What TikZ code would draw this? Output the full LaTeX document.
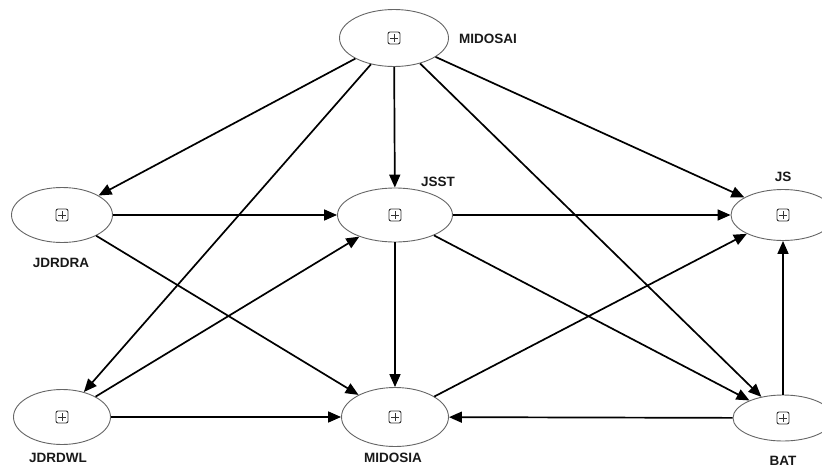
\documentclass[tikz,border=0pt]{standalone}
\usepackage{fontspec}
\setmainfont{Liberation Sans}
\usetikzlibrary{arrows.meta,shapes.geometric}
\begin{document}
\begin{tikzpicture}[x=1pt,y=-1pt,
  ell/.style={ellipse, draw=black!60, line width=0.9pt, fill=white, inner sep=0pt},
  lbl/.style={font=\bfseries\fontsize{13.5}{16}\selectfont, text=black!90, inner sep=0pt},
  conn/.style={-{Triangle[length=13pt,width=11pt]}, line width=1.7pt},
  plusbox/.pic={
    \draw[line width=0.9pt, draw=black!80, rounded corners=2pt] (-6,-6) rectangle (6,6);
    \draw[line width=0.9pt, draw=black!80] (-3.6,0)--(3.6,0) (0,-3.6)--(0,3.6);}]
\useasboundingbox (0,0) rectangle (822,469);
\fill[white] (0,0) rectangle (822,469);

\node[ell, minimum width=109pt, minimum height=57pt] (midosai) at (394,38) {};
\node[ell, minimum width=101pt, minimum height=55pt] (jdrdra) at (62,215) {};
\node[ell, minimum width=115pt, minimum height=54pt] (jsst) at (395,215) {};
\node[ell, minimum width=104pt, minimum height=51pt] (js) at (783,215) {};
\node[ell, minimum width=97pt, minimum height=55pt] (jdrdwl) at (62,417) {};
\node[ell, minimum width=107pt, minimum height=59pt] (midosia) at (395,417) {};
\node[ell, minimum width=100pt, minimum height=46pt] (bat) at (783,418) {};

\foreach \n in {midosai,jdrdra,jsst,js,jdrdwl,midosia,bat} {\pic at (\n.center) {plusbox};}

\node[lbl] (lmidosai) at (488,39) {MIDOSAI};
\node[lbl] (ljsst) at (438,182) {JSST};
\node[lbl] (ljs) at (783,177) {JS};
\node[lbl] (ljdrdra) at (61,263) {JDRDRA};
\node[lbl] (ljdrdwl) at (58,458) {JDRDWL};
\node[lbl] (lmidosia) at (393,458) {MIDOSIA};
\node[lbl] (lbat) at (783,461) {BAT};

\draw[conn] (midosai) -- (jdrdra);
\draw[conn] (midosai) -- (jsst);
\draw[conn] (midosai) -- (js);
\draw[conn] (midosai) -- (jdrdwl);
\draw[conn] (midosai) -- (bat);
\draw[conn] (jdrdra) -- (jsst);
\draw[conn] (jdrdra) -- (midosia);
\draw[conn] (jsst) -- (js);
\draw[conn] (jsst) -- (midosia);
\draw[conn] (jsst) -- (bat);
\draw[conn] (jdrdwl) -- (jsst);
\draw[conn] (jdrdwl) -- (midosia);
\draw[conn] (midosia) -- (js);
\draw[conn] (bat) -- (midosia);
\draw[conn] (bat) -- (js);
\end{tikzpicture}
\end{document}
